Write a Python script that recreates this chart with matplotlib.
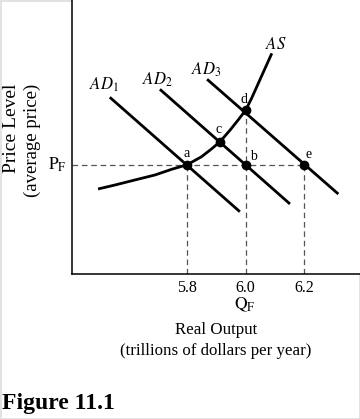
import matplotlib
matplotlib.use('Agg')
import matplotlib.pyplot as plt

plt.rcParams['font.family'] = 'serif'
plt.rcParams['font.serif'] = ['Liberation Serif', 'DejaVu Serif']
plt.rcParams['mathtext.fontset'] = 'stix'

# aggregate supply curve (real output, price level)
as_q = [5.496, 5.553, 5.621, 5.690, 5.747, 5.80, 5.849, 5.883, 5.912,
        5.946, 5.974, 6.0, 6.020, 6.043, 6.066, 6.089]
as_p = [77.8, 81.4, 86.0, 90.6, 95.8, 100, 107.3, 114.4, 121.0,
        131.5, 140.9, 150.0, 160.8, 174.5, 188.2, 201.9]

# aggregate demand curves: start and end points
ad1_q = [5.536, 5.980]
ad1_p = [161.7, 57.0]
ad2_q = [5.707, 6.151]
ad2_p = [169.0, 64.1]
ad3_q = [5.868, 6.316]
ad3_p = [178.2, 73.2]

# equilibrium points
pt_names = ['a', 'b', 'c', 'd', 'e']
pt_q = [5.8, 6.0, 5.912, 6.0, 6.2]
pt_p = [100, 100, 121.0, 150.0, 100]

pf = 100
ticks = [5.8, 6.0, 6.2]
tick_labels = ['5.8', '6.0', '6.2']

fig = plt.figure(figsize=(3.6, 4.19), dpi=100)
fig.patch.set_edgecolor('#e2e2e2')
fig.patch.set_linewidth(2)
ax = fig.add_axes([0.2, 0.346, 0.8, 0.654])
ax.set_xlim(5.407, 6.390)
ax.set_ylim(0, 250.7)

for s in ['top', 'right']:
    ax.spines[s].set_visible(False)
for s in ['left', 'bottom']:
    ax.spines[s].set_linewidth(1.1)

dash = dict(color='#555555', lw=0.9, dashes=(4.5, 3))
ax.plot([ax.get_xlim()[0], 6.2], [pf, pf], **dash)
ax.plot([5.8, 5.8], [0, pf], **dash)
ax.plot([6.0, 6.0], [0, 150.0], **dash)
ax.plot([6.2, 6.2], [0, pf], **dash)

for q, p in [(ad1_q, ad1_p), (ad2_q, ad2_p), (ad3_q, ad3_p)]:
    ax.plot(q, p, color='black', lw=2.0, solid_capstyle='butt')
ax.plot(as_q, as_p, color='black', lw=2.0, solid_capstyle='butt',
        solid_joinstyle='round')

ax.plot(pt_q, pt_p, 'o', color='black', ms=6)

lbl_pos = {'a': (5.799, 110.7), 'b': (6.025, 107.1), 'c': (5.908, 131.8),
           'd': (5.994, 160.1), 'e': (6.216, 109.8)}
for n in pt_names:
    ax.text(*lbl_pos[n], n, fontsize=10, ha='center', va='center')

ax.text(5.515, 172.9, r'$AD_1$', fontsize=12, ha='center', va='center')
ax.text(5.698, 177.5, r'$AD_2$', fontsize=12, ha='center', va='center')
ax.text(5.864, 186.7, r'$AD_3$', fontsize=12, ha='center', va='center')
ax.text(6.103, 209.5, r'$AS$', fontsize=12, ha='center', va='center')

ax.set_xticks(ticks)
ax.set_xticklabels(tick_labels, fontsize=11.5)
ax.set_yticks([])
ax.tick_params(axis='x', length=0, pad=4.5)

ax.text(5.358, pf, r'$\mathrm{P_F}$', fontsize=12.5, ha='center', va='center')

fig.text(245 / 360, 1 - 305 / 419, r'$\mathrm{Q_F}$', fontsize=12.5,
         ha='center', va='center')
fig.text(216 / 360, 1 - 330 / 419, 'Real Output', fontsize=12.2,
         ha='center', va='center')
fig.text(216 / 360, 1 - 351 / 419, '(trillions of dollars per year)', fontsize=12.2,
         ha='center', va='center')

fig.text(12 / 360, 1 - 128 / 419, 'Price Level', fontsize=14, rotation=90,
         ha='center', va='center')
fig.text(32 / 360, 1 - 140 / 419, '(average price)', fontsize=13.5, rotation=90,
         ha='center', va='center')

fig.text(2 / 360, 1 - 403 / 419, 'Figure 11.1', fontsize=17, fontweight='bold',
         ha='left', va='center')

fig.savefig('out.png', dpi=100)
